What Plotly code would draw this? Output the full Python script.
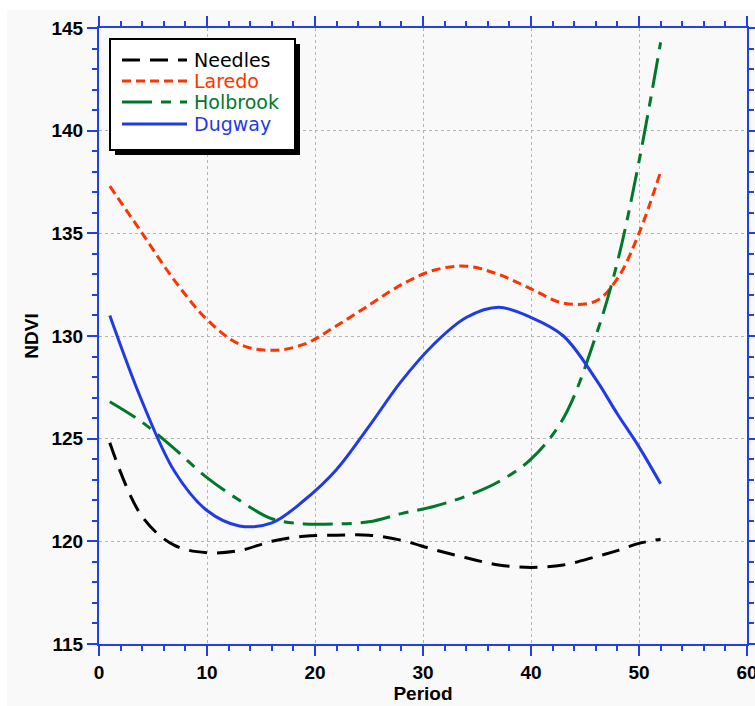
import plotly.graph_objects as go

# Period (week of year) and NDVI readings per station
period = [1, 4, 7, 10, 13, 16, 19, 22, 25, 28, 31, 34, 37, 40, 43, 46, 48, 50, 52]
needles = [124.8, 121.2, 119.8, 119.45, 119.55, 120.0, 120.25, 120.3, 120.3, 120.05,
           119.6, 119.2, 118.85, 118.73, 118.85, 119.25, 119.55, 119.9, 120.1]
laredo = [137.3, 135.0, 132.7, 130.8, 129.6, 129.3, 129.6, 130.5, 131.5, 132.5,
          133.2, 133.4, 133.0, 132.3, 131.6, 131.7, 132.8, 135.0, 138.0]
holbrook = [126.8, 125.8, 124.5, 123.1, 122.0, 121.1, 120.85, 120.85, 120.95, 121.35,
            121.7, 122.2, 122.9, 124.0, 126.0, 130.0, 133.6, 138.5, 144.3]
dugway = [131.0, 126.8, 123.4, 121.5, 120.75, 120.9, 122.0, 123.5, 125.6, 127.8,
          129.6, 130.9, 131.4, 130.9, 130.0, 127.9, 126.2, 124.6, 122.8]

names = ["Needles", "Laredo", "Holbrook", "Dugway"]
values = [needles, laredo, holbrook, dugway]
colors = ["#000000", "#ff3300", "#00782a", "#1f3be6"]
dashes = ["18px,10px", "9px,5px", "30px,9px,10px,9px", "solid"]

AXIS_BLUE = "#2340e6"
BG = "#f9f9f9"

# plot area in pixels (for placing the hand-drawn legend box)
L, R, T, B = 99, 747, 28, 644
W, H = 755, 706


def px(x):
    return (x - L) / (R - L)


def py(y):
    return (B - y) / (B - T)


fig = go.Figure()
for name, vals, col, dsh in zip(names, values, colors, dashes):
    fig.add_trace(go.Scatter(
        x=period, y=vals, name=name, mode="lines",
        line=dict(color=col, width=3, dash=dsh, shape="spline", smoothing=1.0),
        showlegend=False,
    ))

shapes = []
annotations = []

# light grey canvas with a thin white edge on top and left
shapes.append(dict(type="rect", xref="paper", yref="paper", layer="below",
                   x0=px(7), x1=px(W), y0=py(H), y1=py(10),
                   fillcolor=BG, line=dict(width=0)))

# legend box with drop shadow
bx0, bx1, by0, by1 = 110, 295, 39, 150
shapes.append(dict(type="rect", xref="paper", yref="paper",
                   x0=px(bx0 + 5), x1=px(bx1 + 5), y0=py(by1 + 5), y1=py(by0 + 5),
                   fillcolor="black", line=dict(width=0)))
shapes.append(dict(type="rect", xref="paper", yref="paper",
                   x0=px(bx0), x1=px(bx1), y0=py(by1), y1=py(by0),
                   fillcolor="white", line=dict(color="black", width=2)))
rows = [60, 81, 102, 124]
for name, col, dsh, ry in zip(names, colors, dashes, rows):
    shapes.append(dict(type="line", xref="paper", yref="paper",
                       x0=px(122), x1=px(187), y0=py(ry), y1=py(ry),
                       line=dict(color=col, width=3, dash=dsh)))
    annotations.append(dict(xref="paper", yref="paper", x=px(192), y=py(ry),
                            xanchor="left", yanchor="middle", showarrow=False,
                            text=name, font=dict(family="DejaVu Sans", size=19, color=col)))

tickfont = dict(family="Liberation Sans, Arial", size=19, color="black")
titlefont = dict(family="Liberation Sans, Arial", size=19, color="black")
common = dict(
    showline=True, linecolor=AXIS_BLUE, linewidth=2, mirror="allticks",
    ticks="outside", ticklen=10, tickwidth=2, tickcolor=AXIS_BLUE,
    showgrid=True, gridcolor="#b4b4b4", gridwidth=1, griddash="dot",
    zeroline=False, tickfont=tickfont, automargin=False,
    ticklabeloverflow="allow",
)

fig.update_layout(
    width=W, height=H,
    margin=dict(l=L, r=W - R, t=T, b=H - B),
    paper_bgcolor="white", plot_bgcolor=BG,
    xaxis=dict(range=[0, 60], dtick=10, tick0=0,
               minor=dict(dtick=2, ticks="outside", ticklen=5, tickwidth=2,
                          tickcolor=AXIS_BLUE, showgrid=False),
               tickprefix="<b>", ticksuffix="</b>",
               title=dict(text="<b>Period</b>", font=titlefont, standoff=3),
               **common),
    yaxis=dict(range=[115, 145], dtick=5, tick0=115,
               minor=dict(dtick=1, ticks="outside", ticklen=5, tickwidth=2,
                          tickcolor=AXIS_BLUE, showgrid=False),
               tickprefix="<b>", ticksuffix="</b>",
               title=dict(text="<b>NDVI</b>", font=titlefont, standoff=8),
               **common),
    shapes=shapes,
    annotations=annotations,
    showlegend=False,
)

fig.write_html("out.html")
